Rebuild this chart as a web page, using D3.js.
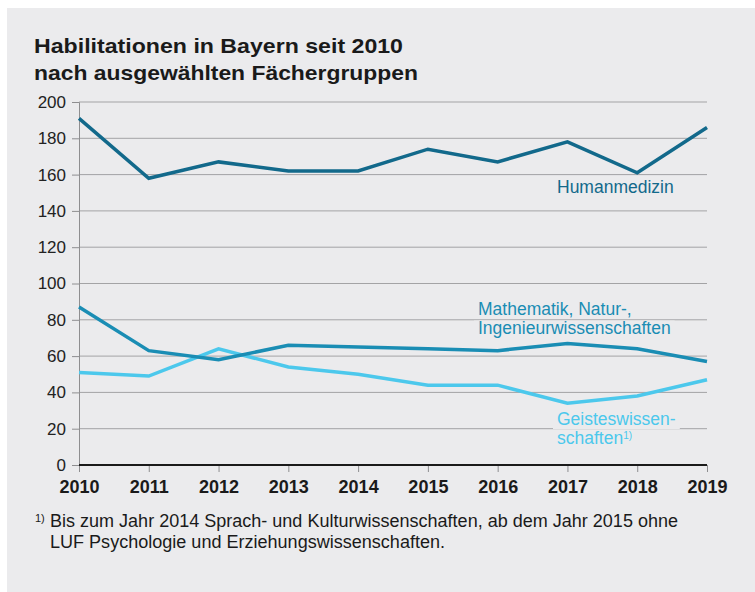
<!DOCTYPE html>
<html>
<head>
<meta charset="utf-8">
<script src="https://d3js.org/d3.v7.min.js"></script>
<style>
  body { margin:0; background:#fff; }
  svg { display:block; font-family:"Liberation Sans", Arial, sans-serif; }
</style>
</head>
<body>
<script>
var years = [2010, 2011, 2012, 2013, 2014, 2015, 2016, 2017, 2018, 2019];
var humanmedizin = [191, 158, 167, 162, 162, 174, 167, 178, 161, 186];
var mathematik = [87, 63, 58, 66, 65, 64, 63, 67, 64, 57];
var geistes = [51, 49, 64, 54, 50, 44, 44, 34, 38, 47];
var yTicks = [0, 20, 40, 60, 80, 100, 120, 140, 160, 180, 200];

var width = 755, height = 592;
var panel = "#ebebed";

var svg = d3.select("body").append("svg")
    .attr("width", width)
    .attr("height", height);

svg.append("rect")
    .attr("x", 7).attr("y", 8)
    .attr("width", width - 7).attr("height", height - 8)
    .attr("fill", panel);

svg.append("text")
    .attr("x", 34).attr("y", 53)
    .attr("font-size", 21).attr("font-weight", "bold").attr("fill", "#1a1a1a")
    .attr("textLength", 369).attr("lengthAdjust", "spacingAndGlyphs")
    .text("Habilitationen in Bayern seit 2010");
svg.append("text")
    .attr("x", 34).attr("y", 80)
    .attr("font-size", 21).attr("font-weight", "bold").attr("fill", "#1a1a1a")
    .attr("textLength", 384).attr("lengthAdjust", "spacingAndGlyphs")
    .text("nach ausgewählten Fächergruppen");

var x = d3.scaleLinear().domain([2010, 2019]).range([79, 707]);
var y = d3.scaleLinear().domain([0, 200]).range([465, 102]);

// gridlines
svg.append("g").selectAll("line")
    .data(yTicks.filter(function(d){ return d > 0; }))
  .enter().append("line")
    .attr("x1", 79).attr("x2", 707)
    .attr("y1", function(d){ return y(d); })
    .attr("y2", function(d){ return y(d); })
    .attr("stroke", "#a3a3a5").attr("stroke-width", 1);

// y axis
var yAxis = svg.append("g")
    .attr("transform", "translate(79,0)")
    .call(d3.axisLeft(y).tickValues(yTicks).tickSize(7).tickPadding(6));
yAxis.select(".domain").attr("stroke", "#8e8e90");
yAxis.selectAll(".tick line").attr("stroke", "#8e8e90");
yAxis.selectAll("text").attr("font-size", 17).attr("fill", "#222")
    .attr("font-family", "Liberation Sans, Arial, sans-serif");

// x axis
var xAxis = svg.append("g")
    .attr("transform", "translate(0,465)")
    .call(d3.axisBottom(x).tickValues(years).tickFormat(d3.format("d")).tickSize(7).tickPadding(8));
xAxis.select(".domain").remove();
xAxis.selectAll(".tick line").attr("stroke", "#8e8e90");
xAxis.selectAll("text").attr("font-size", 18).attr("font-weight", "bold").attr("fill", "#1a1a1a")
    .attr("font-family", "Liberation Sans, Arial, sans-serif");
svg.append("line")
    .attr("x1", 79).attr("x2", 707).attr("y1", 465).attr("y2", 465)
    .attr("stroke", "#1a1a1a").attr("stroke-width", 2);

// labels: one text per line, backgrounds drawn underneath all texts
var bgLayer = svg.append("g");
var textLayer = svg.append("g");
function label(lines, x0, y0, color, lh) {
  lines.forEach(function(l, i) {
    var t = textLayer.append("text").attr("font-size", 17.5).attr("fill", color)
        .attr("x", x0).attr("y", y0 + i * lh);
    t.append("tspan").text(l[0]);
    if (l[1]) t.append("tspan").attr("font-size", 10).attr("dy", -5).text(l[1]);
    var b = t.node().getBBox();
    bgLayer.append("rect").attr("fill", panel)
        .attr("x", b.x - 4).attr("y", y0 + i * lh - 13).attr("width", b.width + 8).attr("height", 17);
  });
}

label([["Humanmedizin"]], 557, 193, "#12698b", 20);
label([["Mathematik, Natur-,"], ["Ingenieurwissenschaften"]], 478, 315, "#1a8db4", 18.5);
label([["Geisteswissen-"], ["schaften", "1)"]], 557, 425, "#4cc8ec", 18.5);

var line = d3.line()
    .x(function(d, i){ return x(years[i]); })
    .y(function(d){ return y(d); });

[[geistes, "#4cc8ec"], [mathematik, "#1a8db4"], [humanmedizin, "#12698b"]].forEach(function(s) {
  svg.append("path")
      .datum(s[0])
      .attr("d", line)
      .attr("fill", "none")
      .attr("stroke", s[1])
      .attr("stroke-width", 3.5);
});

// footnote
svg.append("text").attr("x", 35).attr("y", 522).attr("font-size", 11).attr("fill", "#1a1a1a").text("1)");
svg.append("text").attr("x", 50).attr("y", 527).attr("font-size", 17.5).attr("fill", "#1a1a1a")
    .attr("textLength", 628).attr("lengthAdjust", "spacingAndGlyphs")
    .text("Bis zum Jahr 2014 Sprach- und Kulturwissenschaften, ab dem Jahr 2015 ohne");
svg.append("text").attr("x", 50).attr("y", 548).attr("font-size", 17.5).attr("fill", "#1a1a1a")
    .attr("textLength", 395).attr("lengthAdjust", "spacingAndGlyphs")
    .text("LUF Psychologie und Erziehungswissenschaften.");
</script>
</body>
</html>
